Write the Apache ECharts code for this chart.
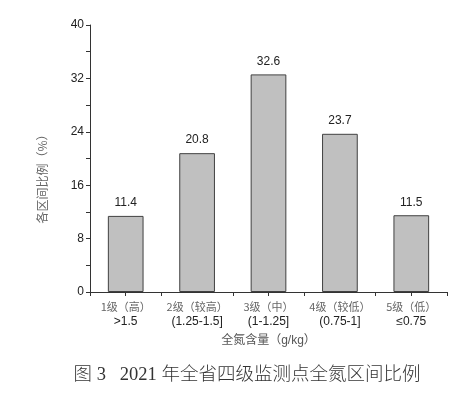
<!DOCTYPE html>
<html><head><meta charset="utf-8">
<script src="https://cdn.jsdelivr.net/npm/echarts@6/dist/echarts.min.js"></script>
<style>html,body{margin:0;padding:0;background:#fff}#c{width:466px;height:399px}</style>
</head><body><div id="c"></div>
<script>
const gradeLabels = ['1级（高）', '2级（较高）', '3级（中）', '4级（较低）', '5级（低）'];
const rangeLabels = ['>1.5', '(1.25-1.5]', '(1-1.25]', '(0.75-1]', '≤0.75'];
const values = [11.4, 20.8, 32.6, 23.7, 11.5];
const yTicks = [0, 8, 16, 24, 32, 40];
const categories = gradeLabels.map((g, i) => g + '\n' + rangeLabels[i]);

const chart = echarts.init(document.getElementById('c'), null, {renderer: 'canvas'});
const axisColor = '#333';
chart.setOption({
  animation: false,
  backgroundColor: '#fff',
  grid: {left: 90, right: 19, top: 25, bottom: 107},
  xAxis: [{
    type: 'category',
    data: categories,
    axisLine: {lineStyle: {color: axisColor, width: 1}},
    axisTick: {show: true, length: 4, alignWithLabel: false, lineStyle: {color: axisColor}},
    axisLabel: {
      margin: 8,
      interval: 0,
      formatter: (v) => { const p = v.split('\n'); return '{a|' + p[0] + '}\n{b|' + p[1] + '}'; },
      rich: {
        a: {fontFamily: 'Noto Sans CJK SC', fontSize: 11, color: '#666', lineHeight: 14},
        b: {fontFamily: 'Liberation Sans', fontSize: 12, color: '#222', lineHeight: 15}
      }
    },
    name: '全氮含量（g/kg）',
    nameLocation: 'middle',
    nameGap: 43,
    nameTextStyle: {fontFamily: '"Liberation Sans", "Noto Sans CJK SC"', fontSize: 12, color: '#555'}
  }, {
    type: 'category',
    data: categories,
    position: 'bottom',
    axisLine: {show: false},
    axisTick: {show: true, length: 4, alignWithLabel: true, lineStyle: {color: axisColor}},
    axisLabel: {show: false}
  }],
  yAxis: {
    type: 'value',
    min: yTicks[0], max: yTicks[yTicks.length - 1], interval: 8,
    axisLine: {show: true, lineStyle: {color: axisColor}},
    axisTick: {show: true, length: 4, lineStyle: {color: axisColor}},
    minorTick: {show: true, splitNumber: 2, length: 4, lineStyle: {color: axisColor}},
    splitLine: {show: false},
    axisLabel: {fontFamily: 'Liberation Sans', fontSize: 12, color: '#222', margin: 6}
  },
  series: [{
    type: 'bar',
    data: values,
    barWidth: '50%',
    itemStyle: {color: '#c0c0c0', borderColor: '#404040', borderWidth: 1},
    label: {show: true, position: 'top', distance: 7, fontFamily: 'Liberation Sans', fontSize: 12, color: '#222', formatter: (p) => p.value.toFixed(1)}
  }],
  graphic: [{
    type: 'text', x: 42, y: 176, rotation: Math.PI / 2,
    style: {text: '各区间比例（%）', fontFamily: 'Noto Sans CJK SC', fontSize: 12, fill: '#666', align: 'center', verticalAlign: 'middle'}
  }, {
    type: 'text', x: 247, y: 375,
    style: {text: '图 3   2021 年全省四级监测点全氮区间比例', fontFamily: '"Liberation Serif", "Noto Sans CJK SC"', fontSize: 18.5, fontWeight: 300, fill: '#333', align: 'center', verticalAlign: 'middle'}
  }]
});
</script></body></html>
